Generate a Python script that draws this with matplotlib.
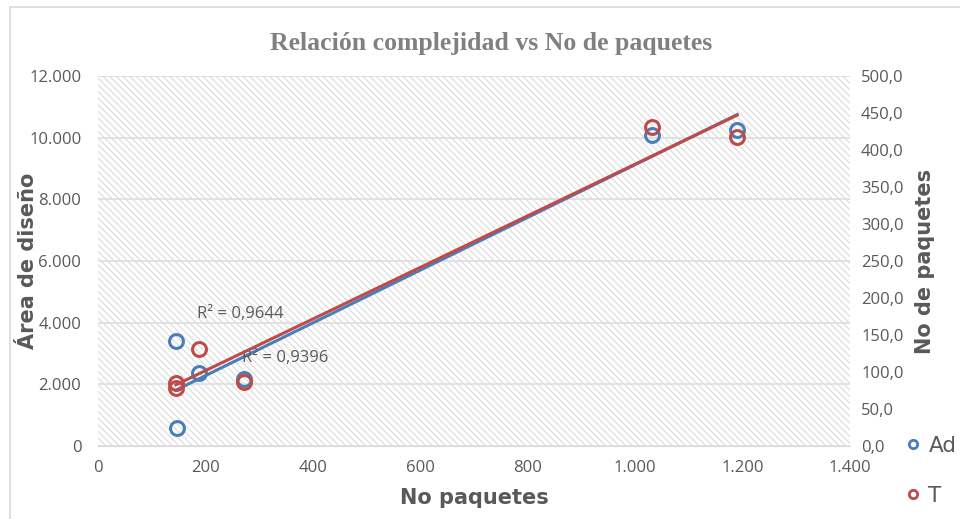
import numpy as np
import matplotlib.pyplot as plt
import matplotlib.patches as mpatches
from matplotlib.ticker import FuncFormatter
from matplotlib.lines import Line2D

# data
paquetes_ad = [145, 147, 188, 272, 1032, 1190]
area_ad = [3405, 584, 2368, 2173, 10086, 10249]
paquetes_t = [145, 145, 188, 272, 1032, 1190]
no_paq_t = [85, 78, 131, 86.5, 431, 417.6]

blue = '#4A7EBB'
red = '#BE4B48'
txt = '#595959'
narrow = ['Open Sans', 'DejaVu Sans']

plt.rcParams['hatch.color'] = '#DADADA'
plt.rcParams['hatch.linewidth'] = 0.8

fig = plt.figure(figsize=(9.6, 5.19), dpi=100)
ax = fig.add_axes([98 / 960, 1 - 446 / 519, 752 / 960, 370 / 519])
ax2 = ax.twinx()

# outer chart border
fig.patches.append(mpatches.Rectangle((10 / 960, -0.05), 1.1, 1 - 7 / 519 + 0.05,
                                      transform=fig.transFigure, fill=False,
                                      edgecolor='#D9D9D9', linewidth=1.2))

# hatched plot area
ax.add_patch(mpatches.Rectangle((0, 0), 1, 1, transform=ax.transAxes, facecolor='white',
                                edgecolor='#DADADA', hatch='\\\\\\\\\\', linewidth=0, zorder=0))

ax.set_xlim(0, 1400)
ax.set_ylim(0, 12000)
ax2.set_ylim(0, 500)
ax.set_xticks(np.arange(0, 1401, 200))
ax.set_yticks(np.arange(0, 12001, 2000))
ax2.set_yticks(np.arange(0, 501, 50))

dotfmt = FuncFormatter(lambda v, p: f'{int(v):,}'.replace(',', '.'))
ax.xaxis.set_major_formatter(dotfmt)
ax.yaxis.set_major_formatter(dotfmt)
ax2.yaxis.set_major_formatter(FuncFormatter(lambda v, p: f'{v:.1f}'.replace('.', ',')))

ax.grid(axis='y', color='#DDDDDD', linewidth=1.2, zorder=1)
ax.set_axisbelow(True)
for a in (ax, ax2):
    for s in a.spines.values():
        s.set_visible(False)
    a.tick_params(length=0, colors=txt, labelsize=12)
    for lab in a.get_xticklabels() + a.get_yticklabels():
        lab.set_family(narrow)
ax.spines['bottom'].set_visible(True)
ax.spines['bottom'].set_color('#D9D9D9')
ax.tick_params(axis='x', pad=10)
ax.tick_params(axis='y', pad=12)
ax2.tick_params(axis='y', pad=8)

# scatter
ax.plot(paquetes_ad, area_ad, 'o', mfc='none', mec=blue, mew=2.2, ms=10, zorder=3)
ax2.plot(paquetes_t, no_paq_t, 'o', mfc='none', mec=red, mew=2.2, ms=10, zorder=3)

# linear trend lines
xa = np.array(paquetes_ad, dtype=float)
ya = np.array(area_ad, dtype=float)
ka, ba = np.polyfit(xa, ya, 1)
xr = np.array([xa.min(), xa.max()])
ax.plot(xr, ka * xr + ba, color=blue, lw=2.2, zorder=2)

xt = np.array(paquetes_t, dtype=float)
yt = np.array(no_paq_t, dtype=float)
kt, bt = np.polyfit(xt, yt, 1)
xr2 = np.array([xt.min(), xt.max()])
ax2.plot(xr2, kt * xr2 + bt, color=red, lw=2.2, zorder=2)

ax.text(185, 4150, 'R² = 0,9644', color=txt, fontsize=12, family=narrow)
ax.text(268, 2730, 'R² = 0,9396', color=txt, fontsize=12, family=narrow)

fig.text(491 / 960, 0.917, 'Relación complejidad vs No de paquetes', ha='center', va='center',
         fontsize=18.5, fontweight='bold', color='#808080', family='Liberation Serif')
ax.set_xlabel('No paquetes', fontsize=15, fontweight='bold', color=txt)
ax.set_ylabel('Área de diseño', fontsize=15, fontweight='bold', color=txt)
ax2.set_ylabel('No de paquetes', fontsize=15, fontweight='bold', color=txt)
ax.xaxis.set_label_coords(0.501, -0.113)
ax.yaxis.set_label_coords(-0.080, 0.5)
ax2.yaxis.set_label_coords(1.086, 0.5)

handles = [Line2D([], [], marker='o', ls='none', mfc='none', mec=blue, mew=2, ms=6),
           Line2D([], [], marker='o', ls='none', mfc='none', mec=red, mew=2, ms=6)]
fig.legend(handles, ['Ad', 'T'], loc='upper left', bbox_to_anchor=(894 / 960, 1 - 427 / 519),
           frameon=False, fontsize=15.5, labelcolor=txt, handletextpad=0.2, handlelength=1,
           labelspacing=1.4, borderaxespad=0)

fig.savefig('out.png', dpi=100)
